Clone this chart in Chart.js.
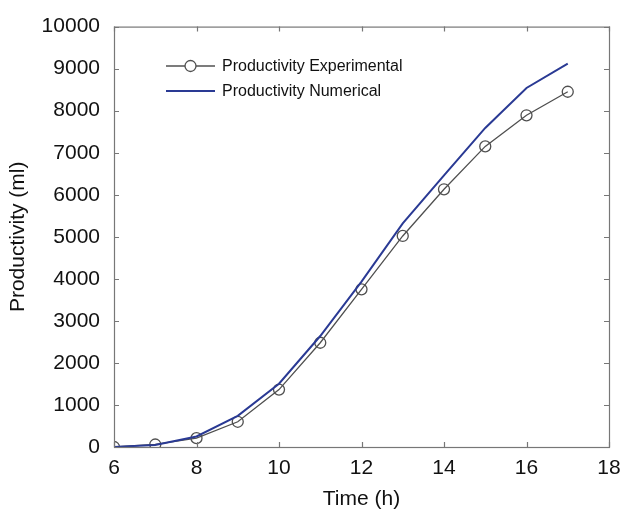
<!DOCTYPE html>
<html>
<head>
<meta charset="utf-8">
<script src="https://cdn.jsdelivr.net/npm/chart.js@4"></script>
<style>
  html, body { margin: 0; padding: 0; background: #fff; }
  #wrap { width: 625px; height: 522px; }
</style>
</head>
<body>
<div id="wrap"><canvas id="productivity-chart"></canvas></div>
<script>
// Values
const timeHours = [6, 7, 8, 9, 10, 11, 12, 13, 14, 15, 16, 17];
const experimental = [0, 60, 210, 600, 1365, 2480, 3750, 5020, 6130, 7150, 7890, 8450];
const numerical = [0, 50, 250, 740, 1505, 2640, 3935, 5320, 6460, 7590, 8540, 9120];
const xTickValues = [6, 8, 10, 12, 14, 16, 18];
const yTickValues = [0, 1000, 2000, 3000, 4000, 5000, 6000, 7000, 8000, 9000, 10000];

const FRAME = '#777777';
const FONT = 'Liberation Sans, Arial, sans-serif';

/**
 * Box round the plot with inward tick marks on all four sides
 */
const framePlugin = {
  id: 'frame',
  afterDatasetsDraw(chart) {
    const { ctx, chartArea: a, scales } = chart;
    const len = 5;
    ctx.save();
    ctx.strokeStyle = FRAME;
    ctx.lineWidth = 1.2;
    ctx.strokeRect(a.left + 0.5, a.top + 0.5, a.right - a.left, a.bottom - a.top);
    ctx.beginPath();
    xTickValues.forEach(v => {
      const x = Math.round(scales.x.getPixelForValue(v)) + 0.5;
      ctx.moveTo(x, a.bottom); ctx.lineTo(x, a.bottom - len);
      ctx.moveTo(x, a.top); ctx.lineTo(x, a.top + len);
    });
    yTickValues.forEach(v => {
      const y = Math.round(scales.y.getPixelForValue(v)) + 0.5;
      ctx.moveTo(a.left, y); ctx.lineTo(a.left + len, y);
      ctx.moveTo(a.right, y); ctx.lineTo(a.right - len, y);
    });
    ctx.stroke();
    ctx.restore();
  }
};

/**
 * Legend inside the plot, top left
 */
const legendPlugin = {
  id: 'insideLegend',
  afterDraw(chart) {
    const { ctx } = chart;
    const rows = [
      { ds: chart.data.datasets[0], y: 66 },
      { ds: chart.data.datasets[1], y: 91 }
    ];
    ctx.save();
    ctx.font = '16px ' + FONT;
    ctx.textBaseline = 'middle';
    rows.forEach(r => {
      ctx.strokeStyle = r.ds.borderColor;
      ctx.lineWidth = r.ds.borderWidth;
      ctx.beginPath();
      ctx.moveTo(166, r.y); ctx.lineTo(215, r.y);
      ctx.stroke();
      if (r.ds.pointRadius > 0) {
        ctx.fillStyle = '#fff';
        ctx.beginPath();
        ctx.arc(190.5, r.y, r.ds.pointRadius, 0, Math.PI * 2);
        ctx.fill();
        ctx.stroke();
      }
      ctx.fillStyle = '#111';
      ctx.fillText(r.ds.label, 222, r.y + 1);
    });
    ctx.restore();
  }
};

const canvas = document.getElementById('productivity-chart');
const chart = new Chart(canvas.getContext('2d'), {
  type: 'line',
  data: {
    datasets: [{
      label: 'Productivity Experimental',
      data: timeHours.map((t, i) => ({ x: t, y: experimental[i] })),
      borderColor: '#505050',
      borderWidth: 1.3,
      pointRadius: 5.5,
      pointBorderWidth: 1.3,
      pointBackgroundColor: 'rgba(255,255,255,0)',
      pointBorderColor: '#505050',
      tension: 0,
      order: 2
    }, {
      label: 'Productivity Numerical',
      data: timeHours.map((t, i) => ({ x: t, y: numerical[i] })),
      borderColor: '#2a3a94',
      borderWidth: 2,
      pointRadius: 0,
      tension: 0,
      order: 1
    }]
  },
  options: {
    responsive: true,
    maintainAspectRatio: false,
    animation: false,
    layout: { padding: { top: 15, right: 16, left: 0, bottom: 0 } },
    plugins: {
      legend: { display: false },
      tooltip: { enabled: false }
    },
    scales: {
      x: {
        type: 'linear',
        min: 6,
        max: 18,
        afterBuildTicks(scale) { scale.ticks = xTickValues.map(v => ({ value: v })); },
        afterFit(scale) {
          scale.height = 75;
          scale.paddingLeft = 0;
          scale.paddingRight = 0;
        },
        grid: { display: false, drawTicks: false },
        border: { display: false },
        ticks: { color: '#111', font: { family: FONT, size: 21 }, padding: 9, maxRotation: 0, callback: v => String(v) },
        title: { display: true, text: 'Time (h)', color: '#111', font: { family: FONT, size: 21 }, padding: { top: 0, bottom: 10 } }
      },
      y: {
        min: 0,
        max: 10000,
        afterBuildTicks(scale) { scale.ticks = yTickValues.map(v => ({ value: v })); },
        afterFit(scale) { scale.width = 114; },
        grid: { display: false, drawTicks: false },
        border: { display: false },
        ticks: { color: '#111', font: { family: FONT, size: 21 }, padding: 14, callback: v => String(v) },
        title: { display: true, text: 'Productivity (ml)', color: '#111', font: { family: FONT, size: 21 }, padding: { top: 6, bottom: 0 } }
      }
    }
  },
  plugins: [framePlugin, legendPlugin]
});
</script>
</body>
</html>
